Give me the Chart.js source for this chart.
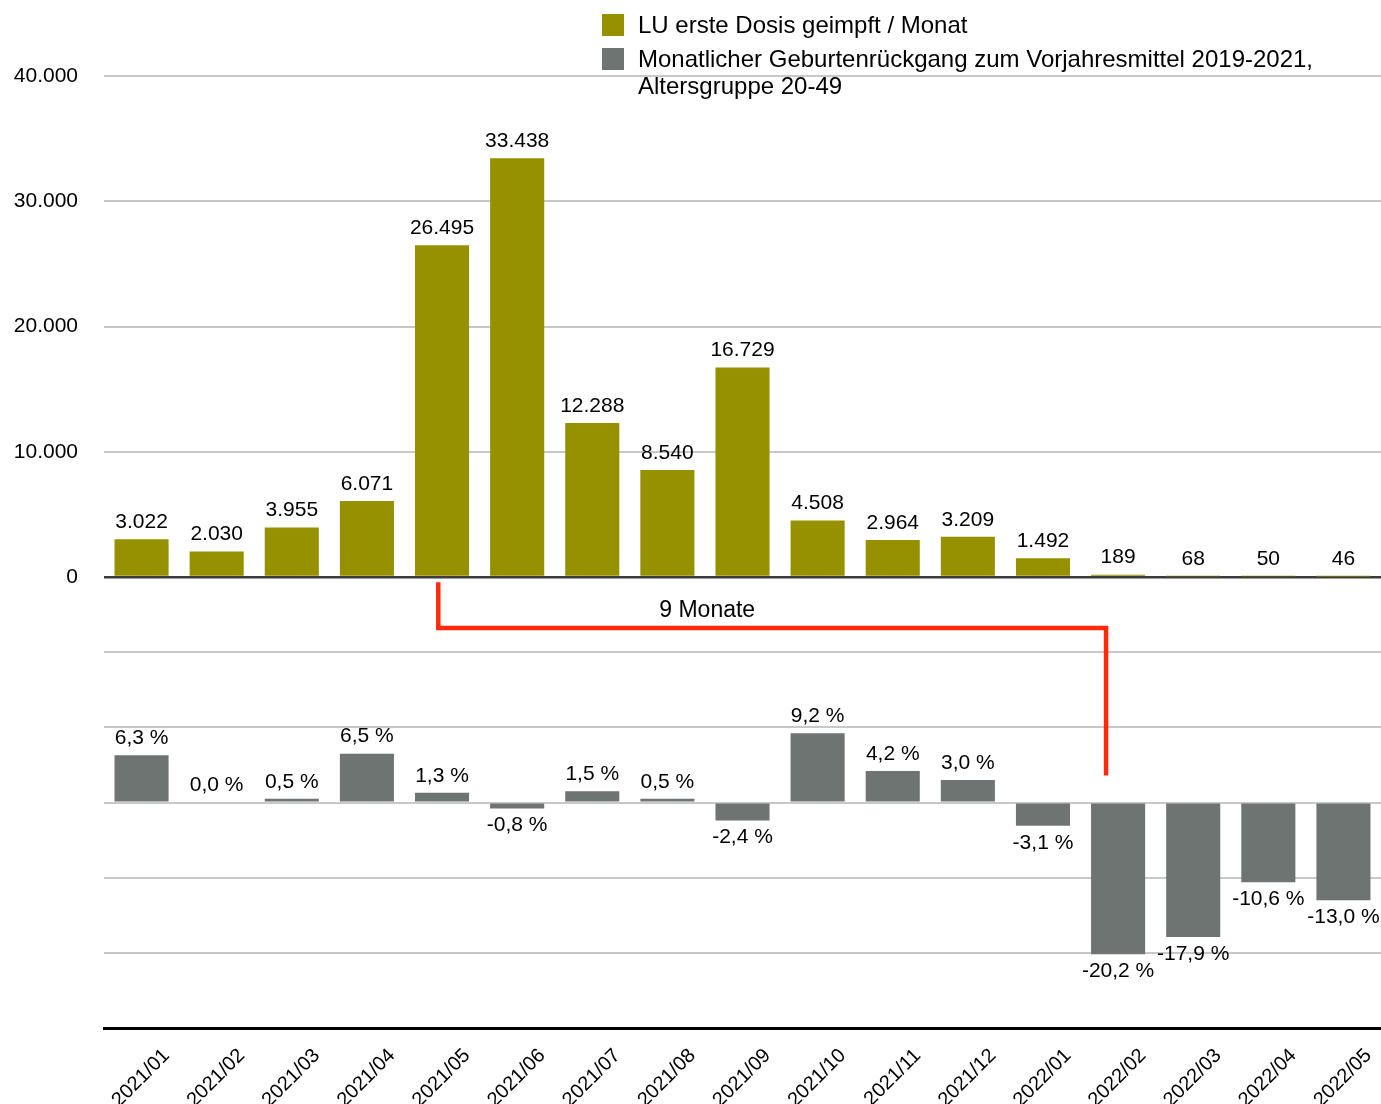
<!DOCTYPE html>
<html lang="de">
<head>
<meta charset="utf-8">
<title>Erstimpfungen LU und Geburtenrückgang</title>
<script src="https://cdn.jsdelivr.net/npm/chart.js@4.4.1/dist/chart.umd.min.js"></script>
<style>
  html, body { margin: 0; padding: 0; background: #fff; }
  #wrap { position: relative; width: 1381px; height: 1104px; }
  #legend {
    position: absolute; left: 602px; top: 11px;
    font: 24px 'Liberation Sans', Arial, sans-serif; line-height: 27px; color: #000;
  }
  .item { display: flex; align-items: flex-start; margin-bottom: 7px; }
  .swatch { width: 22px; height: 22px; margin: 3px 14px 0 0; flex: none; }
</style>
</head>
<body>
<div id="wrap">
  <canvas id="chart" width="1381" height="1104"></canvas>
  <div id="legend"></div>
</div>
<script>
const months = ['2021/01', '2021/02', '2021/03', '2021/04', '2021/05', '2021/06', '2021/07', '2021/08', '2021/09',
  '2021/10', '2021/11', '2021/12', '2022/01', '2022/02', '2022/03', '2022/04', '2022/05'];

// erste Dosis pro Monat (LU)
const firstDoses = [3022, 2030, 3955, 6071, 26495, 33438, 12288, 8540, 16729, 4508, 2964, 3209, 1492, 189, 68, 50, 46];

// Geburtenrückgang in % zum Mittel 2019-2021
const birthChange = [6.3, 0.0, 0.5, 6.5, 1.3, -0.8, 1.5, 0.5, -2.4, 9.2, 4.2, 3.0, -3.1, -20.2, -17.9, -10.6, -13.0];

const seriesNames = [
  'LU erste Dosis geimpft / Monat',
  'Monatlicher Geburtenrückgang zum Vorjahresmittel 2019-2021,<br>Altersgruppe 20-49'
];
const seriesColors = ['#969100', '#6e7471'];

// "9 Monate" bracket: from month index to month index, levels on the lower axis
const bracketFrom = 3.95, bracketTo = 12.84;
const bracketLevels = [29.3, 23.2, 3.6];
const bracketText = '9 Monate';

const FONT = "'Liberation Sans', Arial, sans-serif";
Chart.defaults.font.family = FONT;
Chart.defaults.font.size = 21;
Chart.defaults.color = '#000';

const fmtThousands = v => String(v).replace(/\B(?=(\d{3})+(?!\d))/g, '.');
const fmtPercent = v => v.toFixed(1).replace('.', ',') + ' %';

document.getElementById('legend').innerHTML = seriesNames.map((n, i) =>
  `<div class="item"><span class="swatch" style="background:${seriesColors[i]}"></span><span>${n}</span></div>`
).join('');

const valueLabels = {
  id: 'valueLabels',
  afterDatasetsDraw(chart) {
    const ctx = chart.ctx;
    ctx.save();
    ctx.font = `21px ${FONT}`;
    ctx.fillStyle = '#000';
    ctx.textAlign = 'center';
    ctx.textBaseline = 'middle';
    chart.data.datasets.forEach((ds, i) => {
      const fmt = i === 0 ? fmtThousands : fmtPercent;
      chart.getDatasetMeta(i).data.forEach((bar, j) => {
        const v = ds.data[j];
        ctx.fillText(fmt(v), bar.x, v < 0 ? bar.y + 17 : bar.y - 17);
      });
    });
    ctx.restore();
  }
};

const bracket = {
  id: 'bracket',
  afterDatasetsDraw(chart) {
    const xs = chart.scales.x, ys = chart.scales.y2, ctx = chart.ctx;
    const x0 = xs.getPixelForValue(bracketFrom), x1 = xs.getPixelForValue(bracketTo);
    const [a, b, c] = bracketLevels.map(v => ys.getPixelForValue(v));
    ctx.save();
    ctx.strokeStyle = '#ff2a0c';
    ctx.lineWidth = 4.5;
    ctx.beginPath();
    ctx.moveTo(x0, a);
    ctx.lineTo(x0, b);
    ctx.lineTo(x1, b);
    ctx.lineTo(x1, c);
    ctx.stroke();
    ctx.font = `23px ${FONT}`;
    ctx.fillStyle = '#000';
    ctx.textAlign = 'center';
    ctx.textBaseline = 'middle';
    ctx.fillText(bracketText, xs.getPixelForValue(7.53), ys.getPixelForValue(25.5));
    ctx.restore();
  }
};

const gridGrey = '#c8c8c8';

new Chart(document.getElementById('chart'), {
  type: 'bar',
  data: {
    labels: months,
    datasets: [
      {
        label: 'LU erste Dosis geimpft / Monat',
        data: firstDoses,
        yAxisID: 'y',
        backgroundColor: seriesColors[0],
        grouped: false,
        categoryPercentage: 1,
        barPercentage: 0.72
      },
      {
        label: 'Monatlicher Geburtenrückgang zum Vorjahresmittel 2019-2021, Altersgruppe 20-49',
        data: birthChange,
        yAxisID: 'y2',
        backgroundColor: seriesColors[1],
        grouped: false,
        categoryPercentage: 1,
        barPercentage: 0.72
      }
    ]
  },
  options: {
    responsive: false,
    animation: false,
    layout: { padding: { top: 76, right: 0, left: 0, bottom: 0 } },
    plugins: {
      legend: { display: false },
      tooltip: { enabled: false }
    },
    scales: {
      x: {
        grid: { display: false },
        border: { display: true, color: '#000', width: 3 },
        ticks: { minRotation: 45, maxRotation: 45, autoSkip: false, labelOffset: 25, padding: 8, font: { size: 20 } },
        afterFit(s) { s.height = 76; }
      },
      // left boxes are laid out in reverse, so the lower panel comes first
      y2: {
        stack: 'panels',
        stackWeight: 451,
        min: -30,
        max: 30,
        ticks: { stepSize: 10, display: false },
        grid: {
          drawTicks: false,
          color: c => Math.abs(c.tick.value) === 30 ? 'rgba(0,0,0,0)' : gridGrey,
          lineWidth: 2
        },
        border: { display: false },
        afterFit(s) { s.width = 104; }
      },
      y: {
        stack: 'panels',
        stackWeight: 501,
        min: 0,
        max: 40000,
        ticks: { stepSize: 10000, padding: 26, callback: v => fmtThousands(v) },
        grid: {
          drawTicks: false,
          color: c => c.tick.value === 0 ? '#3c3c3c' : gridGrey,
          lineWidth: c => c.tick.value === 0 ? 2.5 : 2
        },
        border: { display: false },
        afterFit(s) { s.width = 104; }
      }
    }
  },
  plugins: [valueLabels, bracket]
});
</script>
</body>
</html>
